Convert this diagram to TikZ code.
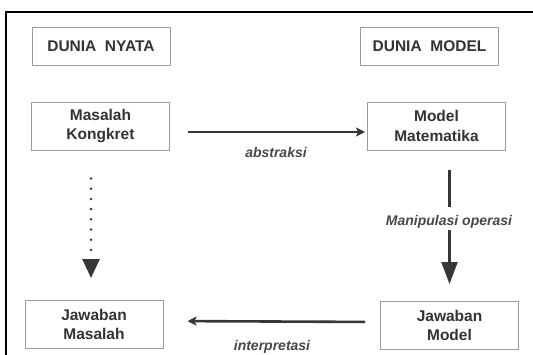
\documentclass[tikz,border=0pt]{standalone}
\usepackage{fontspec}
\setmainfont{Liberation Sans}
\usetikzlibrary{arrows.meta,calc}
\definecolor{txt}{HTML}{333333}
\definecolor{lbl}{HTML}{484848}
\definecolor{bord}{HTML}{9C9C9C}
\definecolor{arrc}{HTML}{363636}
\begin{document}
\begin{tikzpicture}[x=1pt,y=-1pt,
  box/.style={draw=bord,line width=1pt,minimum width=138pt,minimum height=48pt,align=center,inner sep=0pt,
    font=\fontsize{15.5}{19.5}\selectfont\bfseries,text=txt},
  headbox/.style={box,minimum height=38pt},
  lab/.style={font=\fontsize{14}{16}\selectfont\bfseries\itshape,text=lbl,inner sep=0pt},
  arr/.style={draw=arrc,line width=2.6pt,-{Stealth[length=9pt,width=9pt,inset=2pt]}},
  bigarr/.style={draw=arrc,line width=2.2pt,-{Triangle[length=22pt,width=16pt]}},
  dotarr/.style={draw=arrc,line width=2.8pt,line cap=round,dash pattern=on 0pt off 10.2pt,-{Triangle[length=19pt,width=17pt]}}]
\useasboundingbox (0,0) rectangle (533,354);
\begin{scope}
\clip (0,0) rectangle (533,354);
\fill[white] (0,0) rectangle (533,354);
\draw[line width=2pt,black] (6,12) rectangle (545,370);

\node[headbox] (dn) at (101,46) {DUNIA\ \ NYATA};
\node[headbox] (dm) at (429.5,46) {DUNIA\ \ MODEL};
\node[box] (mk) at (100.5,126) {Masalah\\Kongkret};
\node[box] (mm) at (436.5,126) {Model\\Matematika};
\node[box] (jms) at (94,324.5) {Jawaban\\Masalah};
\node[box] (jmd) at (449.5,325.5) {Jawaban\\Model};

\draw[arr,shorten <=18pt,shorten >=2pt] ([yshift=-6pt]mk.east) -- ([yshift=-6pt]mm.west);
\node[lab,anchor=base] (la) at (276,157.5) {abstraksi};

\draw[arr,shorten <=15pt,shorten >=24pt] ([yshift=3.5pt]jmd.west) -- ([yshift=3.5pt]jms.east);
\node[lab,anchor=base] (li) at (272,350.5) {interpretasi};

\draw[bigarr,shorten <=19pt,shorten >=17pt] (jmd.north |- mm.south) -- (jmd.north);
\node[lab,anchor=base,fill=white,text height=18pt,text depth=5pt,inner xsep=2pt] (lm) at (449,225) {Manipulasi operasi};

\draw[dotarr,shorten <=28pt,shorten >=22pt] ($(jms.north |- mk.south)+(-3pt,0)$) -- ($(jms.north)+(-3pt,0)$);
\end{scope}
\end{tikzpicture}
\end{document}
